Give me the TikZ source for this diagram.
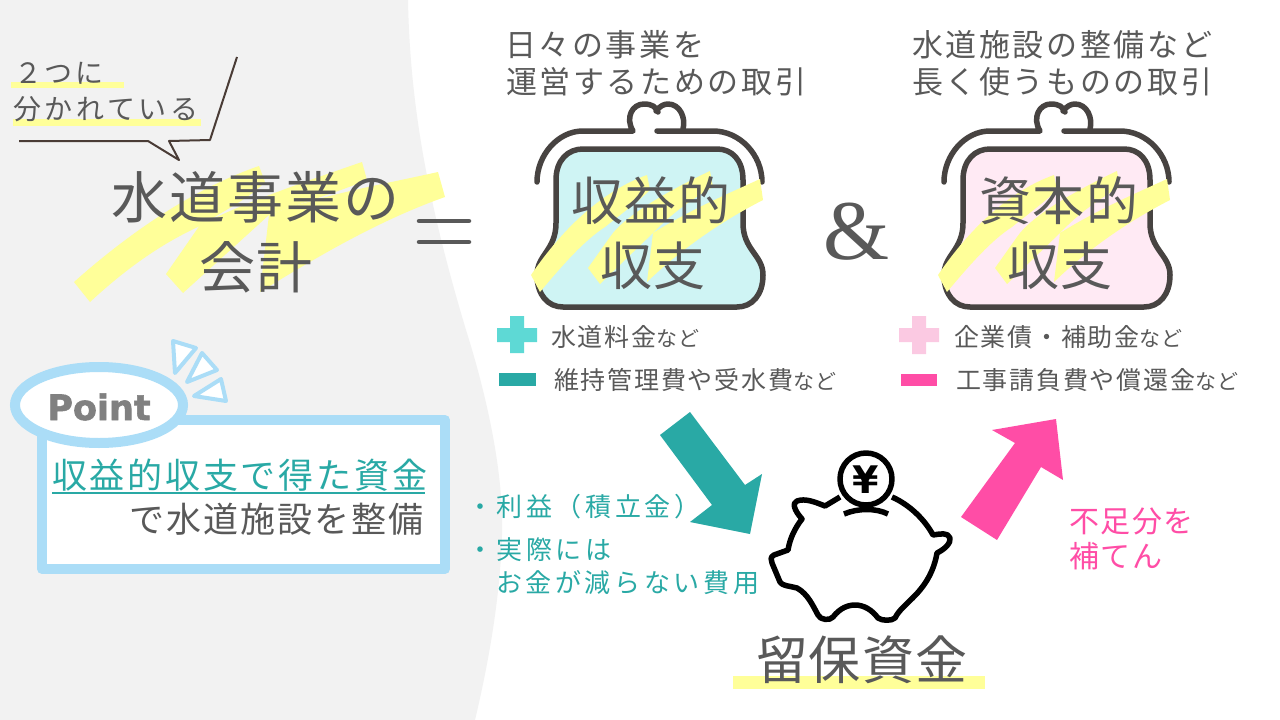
\documentclass[tikz,border=0pt]{standalone}
\usepackage{xcolor}
\usepackage{fontspec}
\setmainfont{Noto Sans CJK JP}
\newfontfamily\latinbold{DejaVu Sans Bold}
\newfontfamily\pointfont[FakeBold=1.6]{DejaVu Sans Bold}
\newfontfamily\ampfont{Liberation Serif}
\usepackage{tikz}
\definecolor{suidogray}{HTML}{595959}
\definecolor{suidopanel}{HTML}{F2F2F2}
\definecolor{suidoyellow}{HTML}{FFFF99}
\definecolor{suidoteal}{HTML}{29A9A5}
\definecolor{suidomint}{HTML}{5ED9D5}
\definecolor{suidopink}{HTML}{FF4DA6}
\definecolor{suidorose}{HTML}{FBC9E2}
\definecolor{suidoblue}{HTML}{ABDDF7}
\definecolor{suidobrown}{HTML}{4A3C36}
\definecolor{suidopurse}{HTML}{474341}
\definecolor{pursemint}{HTML}{CFF4F4}
\definecolor{pursepink}{HTML}{FFEAF4}
\newcommand{\jpf}[2]{\fontsize{#1}{#1}\selectfont\addfontfeature{LetterSpace=#2}}
\newcommand{\nado}[1]{{\fontsize{21}{21}\selectfont #1}}
\newcommand{\drawpurse}[2]{%
\begin{scope}[shift={(#1,0)}]
\filldraw[pursestroke,fill=#2] (556,180) .. controls (556,160) and (568,149) .. (583,149) -- (717,149)
  .. controls (732,149) and (743,160) .. (743,180) -- (743,223)
  .. controls (743,250) and (763,255) .. (763,275)
  .. controls (763,295) and (752,307) .. (737,307) -- (563,307)
  .. controls (548,307) and (537,295) .. (537,275)
  .. controls (537,255) and (556,250) .. (556,223) -- cycle;
\draw[pursestroke] (537,182) .. controls (537,155) and (558,131) .. (583,131) -- (633,131)
  .. controls (625,118) and (632,104) .. (644,104)
  .. controls (652,104) and (656,107) .. (658,112);
\draw[pursestroke] (657,131) -- (713,131) .. controls (740,131) and (762,155) .. (762,182);
\draw[pursestroke] (656,111) .. controls (660,106) and (664,104) .. (668,104)
  .. controls (680,104) and (686,118) .. (683,129);
\fill[marker] (531,275) .. controls (565,225) and (605,190) .. (647,175) -- (650,190)
  .. controls (640,200) and (620,215) .. (605,227) .. controls (585,240) and (565,262) .. (540,292) -- cycle;
\fill[marker] (588,268) -- (610,237) .. controls (625,215) and (670,190) .. (710,171) -- (713,187)
  .. controls (690,200) and (670,215) .. (653,233) -- (600,284) -- cycle;
\fill[marker] (647,282) -- (653,233) .. controls (690,210) and (725,195) .. (760,179) -- (763,200)
  .. controls (720,222) and (680,250) .. (647,282) -- cycle;
\end{scope}}
\begin{document}
\begin{tikzpicture}[
  x=1pt,y=-1pt,
  jp/.style={inner sep=0pt,outer sep=0pt,anchor=base west,text=suidogray},
  lead/.style={jp,font=\jpf{31}{8.5}},
  bigword/.style={jp,font=\jpf{52}{3}},
  listtext/.style={jp,font=\jpf{25}{7}},
  notetext/.style={jp,text=suidoteal,font=\jpf{26}{14}},
  pursestroke/.style={draw=suidopurse,line width=5.5pt,line cap=round,line join=round},
  marker/.style={fill=suidoyellow},
  pig/.style={draw=black,line width=5.5pt,line join=round,line cap=butt},
  spark/.style={draw=suidoblue,fill=white,line width=4pt,line join=round}
]
\useasboundingbox (0,0) rectangle (1280,720);
\fill[white] (0,0) rectangle (1280,720);
\fill[suidopanel] (0,0) -- (408,0) .. controls (410,110) and (430,210) .. (466,330)
  .. controls (485,390) and (504,470) .. (502,535)
  .. controls (500,600) and (488,665) .. (475,720) -- (0,720) -- cycle;
% title markers
\fill[marker] (74,282) .. controls (130,232) and (195,188) .. (259,166) -- (265,182)
  .. controls (250,198) and (225,210) .. (200,226) .. controls (165,242) and (130,265) .. (90,302) -- cycle;
\fill[marker] (166,274) -- (200,225) .. controls (250,200) and (310,180) .. (362,162) -- (367,180)
  .. controls (330,195) and (295,205) .. (269,215) -- (183,293) -- cycle;
\fill[marker] (260,292) -- (269,215) .. controls (320,195) and (380,185) .. (438,172) -- (445,197)
  .. controls (380,220) and (320,255) .. (260,292) -- cycle;
\node[jp,font=\jpf{56}{4}] (title1) at (111,218) {水道事業の};
\node[jp,font=\jpf{56}{3}] (title2) at (199,288) {会計};
% speech bubble
\fill[marker] (11,82) rectangle (124,88);
\fill[marker] (13,119) rectangle (201,126);
\node[jp,font=\jpf{28}{9}] (two) at (14,83) {２つに};
\node[jp,font=\jpf{28}{13}] (split) at (13,119) {分かれている};
\draw[suidobrown,line width=2pt,line join=round] (19,141) -- (148,141) -- (179,160) -- (169,141) -- (210,140) -- (237,57);
% equal sign
\draw[suidogray,line width=4.5pt,line cap=round] (419,221) -- (469,221);
\draw[suidogray,line width=4.5pt,line cap=round] (419,242) -- (469,242);
% purses
\drawpurse{0}{pursemint}
\drawpurse{407}{pursepink}
\node[lead] (dailya) at (505,56) {日々の事業を};
\node[lead] (dailyb) at (506,93) {運営するための取引};
\node[lead] (longa) at (912,56) {水道施設の整備など};
\node[lead] (longb) at (912,93) {長く使うものの取引};
\node[bigword] (revenuea) at (571,220) {収益的};
\node[bigword] (revenueb) at (600,285) {収支};
\node[bigword] (capitala) at (979,220) {資本的};
\node[bigword] (capitalb) at (1007,285) {収支};
\node[jp,font=\ampfont\fontsize{85}{85}\selectfont] (amp) at (857,259) [anchor=base] {\&};
% plus and minus lists
\fill[suidomint] (510,316) rectangle (524,353) (497,328) rectangle (537,342);
\fill[suidoteal] (499,373) rectangle (536,386);
\fill[suidorose] (912,316) rectangle (926,354) (899,328) rectangle (939,342);
\fill[suidopink] (901,374) rectangle (937,386);
\node[listtext] (incomea) at (551,346) {水道料金\nado{など}};
\node[listtext] (costa) at (554,389) {維持管理費や受水費\nado{など}};
\node[listtext] (incomeb) at (954,346) {企業債・補助金\nado{など}};
\node[listtext] (costb) at (956,389) {工事請負費や償還金\nado{など}};
% block arrows
\fill[suidoteal] (660,435) -- (690,412) -- (745,485) -- (762,474) -- (750,534) -- (690,522) -- (712,505) -- cycle;
\fill[suidopink] (961,517) -- (1015,443) -- (992,430) -- (1056,419) -- (1063,480) -- (1041,467) -- (997,540) -- cycle;
% point box
\filldraw[draw=suidoblue,fill=white,line width=10pt,line join=round] (42,420) rectangle (445,569);
\filldraw[draw=suidoblue,fill=white,line width=10pt] (99,405) ellipse [x radius=84,y radius=38];
\node[anchor=base,inner sep=0pt,font=\pointfont\fontsize{35}{35}\selectfont,text=gray] (point) at (99,420) {Point};
\draw[spark] (173,341) -- (196,348) -- (175,373) -- cycle;
\draw[spark] (202,353) -- (217,370) -- (187,382) -- cycle;
\draw[spark] (221,379) -- (226,401) -- (194,396) -- cycle;
\node[jp,text=suidoteal,font=\jpf{35}{8}] (funds) at (52,488) {収益的収支で得た資金};
\draw[suidoteal,line width=1.5pt] (funds.base west) ++(0,5) -- ++(373,0);
\node[jp,anchor=base east,font=\jpf{35}{6}] (build) at (424,532) {で水道施設を整備};
% teal notes
\node[notetext] (notea) at (467,516) {・利益（積立金）};
\node[notetext] (noteb) at (467,559) {・実際には};
\node[notetext] (notec) at (496,592) {お金が減らない費用};
% piggy bank
\draw[pig] (840,497) -- (825,506) .. controls (815,502) and (805,498) .. (797,501)
  .. controls (792,503) and (794,510) .. (802,519)
  .. controls (795,528) and (790,538) .. (788,550) -- (774,555)
  .. controls (770,557) and (771,560) .. (772,563) -- (780,582)
  .. controls (782,586) and (790,586) .. (797,588)
  .. controls (808,594) and (813,606) .. (818,615)
  .. controls (820,620) and (830,621) .. (833,617)
  .. controls (840,608) and (848,605) .. (855,605)
  .. controls (864,605) and (872,610) .. (878,618)
  .. controls (882,621) and (892,621) .. (895,618)
  .. controls (900,608) and (910,602) .. (920,590)
  .. controls (930,578) and (935,565) .. (937,553)
  .. controls (945,549) and (951,543) .. (950,538)
  .. controls (948,532) and (940,534) .. (933,535)
  .. controls (925,520) and (910,505) .. (892,497);
\draw[pig] (844,514) .. controls (858,508) and (876,508) .. (888,514);
\draw[pig] (866,479) circle [radius=26];
\node[anchor=center,inner sep=0pt,font=\latinbold\fontsize{38}{38}\selectfont] (yen) at (866,480) {¥};
\fill[marker] (733,676) rectangle (985,689);
\node[jp,font=\jpf{52}{2}] (reserve) at (756,679) {留保資金};
% pink note
\node[jp,text=suidopink,font=\jpf{30}{5}] (shorta) at (1069,532) {不足分を};
\node[jp,text=suidopink,font=\jpf{30}{5}] (shortb) at (1069,567) {補てん};
\end{tikzpicture}
\end{document}
